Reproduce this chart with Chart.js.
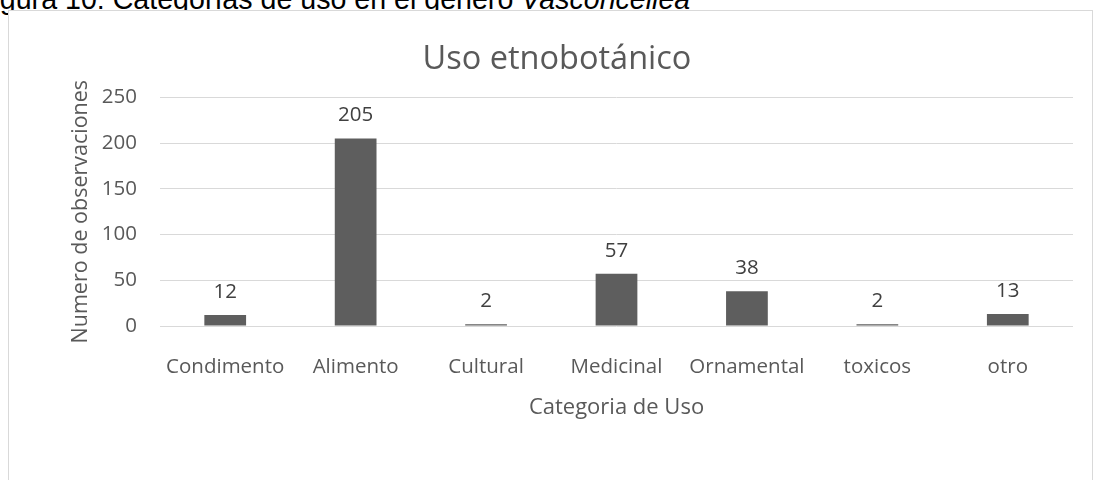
<!DOCTYPE html>
<html lang="es">
<head>
<meta charset="utf-8">
<title>Uso etnobotánico</title>
<script src="https://cdn.jsdelivr.net/npm/chart.js@4.4.1/dist/chart.umd.min.js"></script>
<style>
  html, body { margin: 0; padding: 0; background: #fff; overflow: hidden; }
  body { width: 1093px; height: 480px; position: relative; }
  .caption {
    position: absolute; left: -24px; top: -15px;
    font: 28.6px/1 "Liberation Sans", Arial, sans-serif;
    color: #000; white-space: nowrap;
  }
  .frame {
    position: absolute; left: 8px; top: 10px;
    width: 1083px; height: 480px;
    border: 1px solid #d9d9d9; background: #fff;
  }
  canvas { display: block; }
</style>
</head>
<body>
<div class="caption">Figura 10: Categorías de uso en el género <i>Vasconcellea</i></div>
<div class="frame"><canvas id="chart" width="1083" height="469"></canvas></div>

<script>
const CATEGORIES = ['Condimento', 'Alimento', 'Cultural', 'Medicinal', 'Ornamental', 'toxicos', 'otro'];
const OBSERVATIONS = [12, 205, 2, 57, 38, 2, 13];
const Y_TICKS = [0, 50, 100, 150, 200, 250];

const FONT = '"Open Sans", "Noto Sans", sans-serif';
const TEXT = '#595959';
const GRID = '#d9d9d9';
const BAR = '#5e5e5e';

// value labels above each bar
const barLabels = {
  id: 'barLabels',
  afterDatasetsDraw(chart) {
    const { ctx } = chart;
    const meta = chart.getDatasetMeta(0);
    ctx.save();
    ctx.font = `20.5px ${FONT}`;
    ctx.fillStyle = '#404040';
    ctx.textAlign = 'center';
    ctx.textBaseline = 'alphabetic';
    meta.data.forEach((bar, i) => {
      ctx.fillText(String(OBSERVATIONS[i]), bar.x, bar.y - 17);
    });
    ctx.restore();
  },
};

new Chart(document.getElementById('chart'), {
  type: 'bar',
  data: {
    labels: CATEGORIES,
    datasets: [{
      data: OBSERVATIONS,
      backgroundColor: BAR,
      borderWidth: 0,
      barPercentage: 0.32,
      categoryPercentage: 1,
    }],
  },
  options: {
    responsive: false,
    animation: false,
    devicePixelRatio: 1,
    layout: { padding: { top: 0, left: 32, right: 19, bottom: 59 } },
    plugins: {
      legend: { display: false },
      tooltip: { enabled: false },
      title: {
        display: true,
        text: 'Uso etnobotánico',
        color: TEXT,
        font: { family: FONT, size: 32.5, weight: 'normal' },
        padding: { top: 28.8, bottom: 18.5 },
      },
    },
    scales: {
      x: {
        grid: { display: false },
        border: { display: false },
        ticks: { color: TEXT, font: { family: FONT, size: 20.5 }, padding: 20.4, maxRotation: 0, autoSkip: false },
        title: {
          display: true,
          text: 'Categoria de Uso',
          color: TEXT,
          font: { family: FONT, size: 22 },
          padding: { top: 0, bottom: 0 },
        },
        afterFit(scale) { scale.height = 95; },
      },
      y: {
        min: Y_TICKS[0],
        max: Y_TICKS[Y_TICKS.length - 1],
        afterBuildTicks(scale) { scale.ticks = Y_TICKS.map((v) => ({ value: v })); },
        grid: { color: GRID, lineWidth: 1, drawTicks: false },
        border: { display: false },
        ticks: { color: TEXT, font: { family: FONT, size: 20.5 }, padding: 23 },
        title: {
          display: true,
          text: 'Numero de observaciones',
          color: TEXT,
          font: { family: FONT, size: 21.5 },
          padding: { top: 27, bottom: 0 },
        },
        afterFit(scale) { scale.width = 119; },
      },
    },
  },
  plugins: [barLabels],
});
</script>
</body>
</html>
